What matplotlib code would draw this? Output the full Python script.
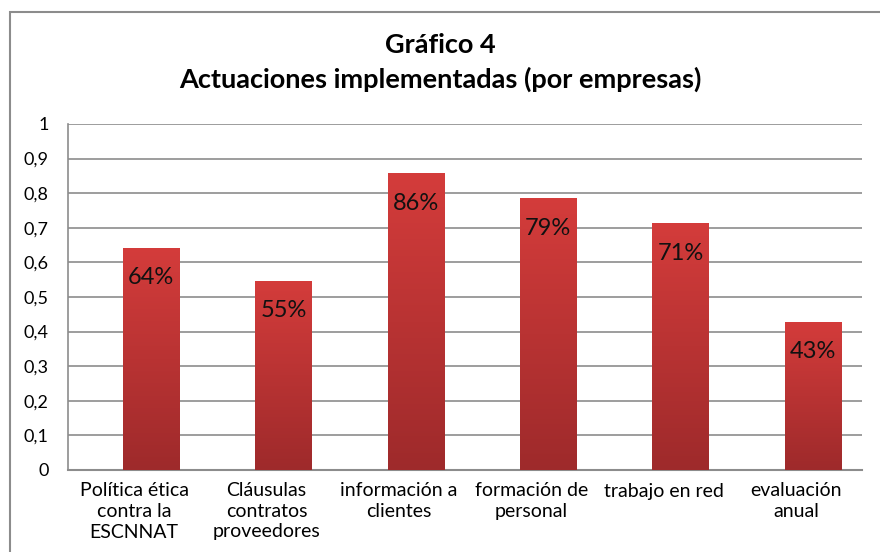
import numpy as np
import matplotlib
matplotlib.use("Agg")
import matplotlib.pyplot as plt
from matplotlib.patches import Rectangle
from matplotlib.colors import LinearSegmentedColormap

# datos del gráfico
categorias = ["Política ética\ncontra la\nESCNNAT", "Cláusulas\ncontratos\nproveedores",
              "información a\nclientes", "formación de\npersonal", "trabajo en red",
              "evaluación\nanual"]
valores = [0.643, 0.547, 0.857, 0.786, 0.714, 0.429]
etiquetas = ["64%", "55%", "86%", "79%", "71%", "43%"]
yticks = [0, 0.1, 0.2, 0.3, 0.4, 0.5, 0.6, 0.7, 0.8, 0.9, 1]

plt.rcParams['font.family'] = ['Lato', 'DejaVu Sans']

fig = plt.figure(figsize=(8.8, 5.52), dpi=100)
fig.patches.append(Rectangle((10/880, -0.1), 1.0, (552-12)/552 + 0.1, transform=fig.transFigure,
                             fill=False, edgecolor='#8c8c8c', linewidth=1.5))

ax = fig.add_axes([68/880, (552-470)/552, (862-68)/880, (470-124)/552])
x = np.arange(len(valores))
ancho = 0.43
desp = 0.13  # las barras van algo a la derecha de la etiqueta

cmap = LinearSegmentedColormap.from_list("rojo", ["#9e2a2b", "#d43c3b"])
grad = np.linspace(0, 1, 256).reshape(-1, 1)

for xi, v, lab in zip(x, valores, etiquetas):
    xc = xi + desp
    bar = ax.bar(xc, v, width=ancho, color='none', zorder=3)[0]
    im = ax.imshow(grad, cmap=cmap, origin='lower', aspect='auto',
                   extent=[xc - ancho/2, xc + ancho/2, 0, v], zorder=3)
    im.set_clip_path(bar)
    ax.text(xc, v - 0.087, lab, ha='center', va='center', fontsize=17, color='#111111', zorder=4)

ax.set_xlim(-0.5, len(valores) - 0.5)
ax.set_ylim(0, 1)
ax.set_yticks(yticks)
ax.set_yticklabels([("%g" % t).replace('.', ',') for t in yticks], fontsize=13)
ax.set_xticks(x)
ax.set_xticklabels(categorias, fontsize=14, linespacing=1.25)
ax.tick_params(axis='both', length=0, pad=9)
ax.tick_params(axis='y', pad=14)
ax.grid(axis='y', color='#8c8c8c', linewidth=1.2, zorder=0)
for s in ['top', 'right']:
    ax.spines[s].set_visible(False)
ax.spines['left'].set_color('#8c8c8c')
ax.spines['bottom'].set_color('#8c8c8c')
ax.spines['left'].set_linewidth(1.2)
ax.spines['bottom'].set_linewidth(1.5)

fig.text(0.5, 1 - 45/552, "Gráfico 4", ha='center', va='center', fontsize=19.5, fontweight='bold')
fig.text(0.5, 1 - 79/552, "Actuaciones implementadas (por empresas)", ha='center', va='center',
         fontsize=19.5, fontweight='bold')

fig.savefig("out.png", dpi=100)
